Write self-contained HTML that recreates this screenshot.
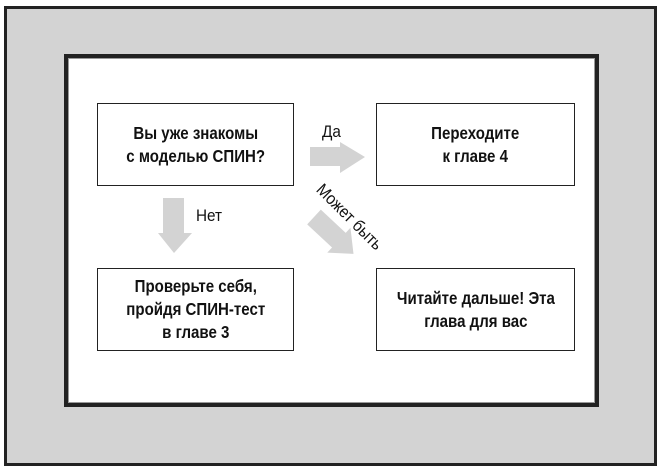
<!DOCTYPE html>
<html><head><meta charset="utf-8"><style>
body{margin:0;width:661px;height:472px;background:#fff;position:relative;overflow:hidden;font-family:"Liberation Sans",sans-serif}
.outer{position:absolute;left:4px;top:6px;width:647px;height:454px;background:#d3d3d3;border:3px solid #222}
.inner{position:absolute;left:64px;top:54px;width:527px;height:345px;background:#fff;border:4px solid #222}
.inner2{position:absolute;left:68px;top:58px;width:525px;height:343px;border:1px solid #999}
.box{position:absolute;border:1.5px solid #222;background:#fff;display:flex;align-items:center;justify-content:center;text-align:center;font-weight:bold;font-size:17.5px;line-height:23px;color:#111}
.box span{display:inline-block;transform:scaleX(0.86);white-space:nowrap}
.lbl{position:absolute;font-size:17px;color:#111;transform:scaleX(0.9);transform-origin:0 0}
</style></head><body>
<div class="outer"></div>
<div class="inner"></div>
<div class="inner2"></div>
<div class="box" style="left:97px;top:103px;width:195px;height:81px"><span>Вы уже знакомы<br>с моделью СПИН?</span></div>
<div class="box" style="left:376px;top:103px;width:197px;height:81px"><span>Переходите<br>к главе 4</span></div>
<div class="box" style="left:97px;top:268px;width:195px;height:81px"><span>Проверьте себя,<br>пройдя СПИН-тест<br>в главе 3</span></div>
<div class="box" style="left:376px;top:268px;width:197px;height:81px"><span>Читайте дальше! Эта<br>глава для вас</span></div>
<svg style="position:absolute;left:0;top:0" width="661" height="472">
<polygon points="310,147 340,147 340,142 365,157 340,173 340,166 310,166" fill="#d3d3d3"/>
<polygon points="163,198 184,198 184,233 192,233 174,253 158,233 163,233" fill="#d3d3d3"/>
<g transform="translate(314,217) rotate(43)">
<polygon points="0,-10 34,-10 34,-17 54,0 34,17 34,10 0,10" fill="#d3d3d3"/>
</g>
</svg>
<div class="lbl" style="left:322px;top:122px">Да</div>
<div class="lbl" style="left:196px;top:206px">Нет</div>
<div class="lbl" style="left:326px;top:180px;transform:rotate(45deg) scaleX(0.9);transform-origin:0 0">Может быть</div>
</body></html>
